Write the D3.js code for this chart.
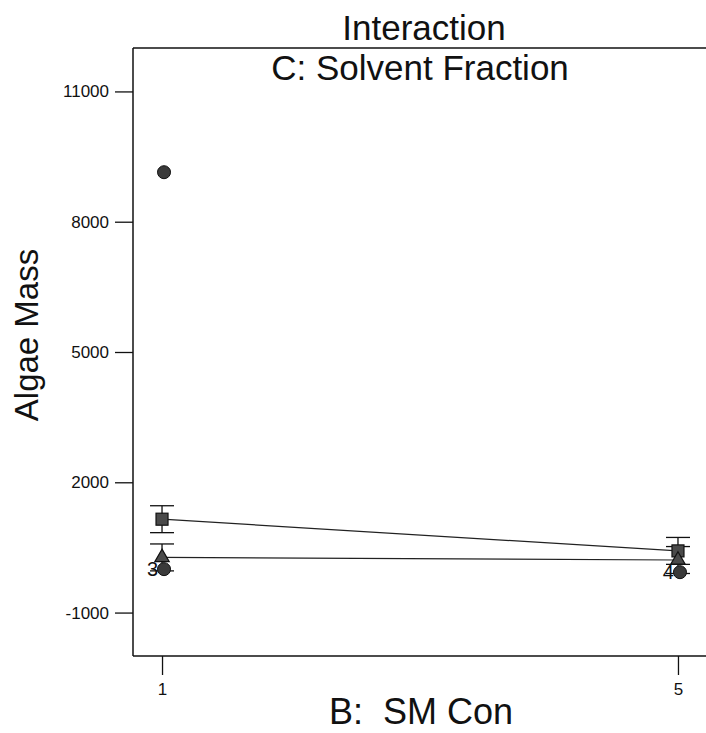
<!DOCTYPE html>
<html>
<head>
<meta charset="utf-8">
<script src="https://cdn.jsdelivr.net/npm/d3@7"></script>
<style>
  body { margin: 0; background: #fff; }
  svg { display: block; font-family: "Liberation Sans", Arial, sans-serif; }
</style>
</head>
<body>
<svg id="chart" width="706" height="733"></svg>
<script>
// factor levels of B and the tick labels
const smCon = [1, 5];
const xTicks = [1, 5];
const yTicks = [-1000, 2000, 5000, 8000, 11000];

// predicted means for the two levels of C (square / triangle) and LSD half width
const squareMeans = [1150, 420];
const triangleMeans = [270, 210];
const lsdHalf = [310, 310];

// design points and how many runs sit on each
const designX = [1, 1, 5];
const designY = [9140, 0, -70];
const designCount = [1, 3, 4];

const svg = d3.select('#chart');

// the plot box runs a bit past the right edge of the window, like the original
const x = d3.scaleLinear().domain([0.775, 5.225]).range([133, 707]);
const y = d3.scaleLinear().domain([-2000, 12000]).range([656, 48]);

// frame (right side is outside the picture)
const frame = svg.append('g').attr('stroke', '#111').attr('stroke-width', 1.5);
frame.append('line')
    .attr('x1', x.range()[0]).attr('x2', 706)
    .attr('y1', y.range()[1]).attr('y2', y.range()[1]);
frame.append('line')
    .attr('x1', x.range()[0]).attr('x2', 706)
    .attr('y1', y.range()[0]).attr('y2', y.range()[0]);
frame.append('line')
    .attr('x1', x.range()[0]).attr('x2', x.range()[0])
    .attr('y1', y.range()[1]).attr('y2', y.range()[0]);

// y axis
const yAxis = svg.append('g')
    .attr('transform', 'translate(' + x.range()[0] + ',0)')
    .call(d3.axisLeft(y).tickValues(yTicks).tickSize(18).tickPadding(6).tickFormat(d => String(d)));
yAxis.select('.domain').remove();
yAxis.selectAll('line').attr('stroke', '#111').attr('stroke-width', 1.3);
yAxis.selectAll('text').attr('font-size', 17).attr('fill', '#111')
    .attr('font-family', '"Liberation Sans", Arial, sans-serif');

// x axis
const xAxis = svg.append('g')
    .attr('transform', 'translate(0,' + y.range()[0] + ')')
    .call(d3.axisBottom(x).tickValues(xTicks).tickSize(19).tickPadding(8).tickFormat(d => String(d)));
xAxis.select('.domain').remove();
xAxis.selectAll('line').attr('stroke', '#111').attr('stroke-width', 1.3);
xAxis.selectAll('text').attr('font-size', 17).attr('fill', '#111')
    .attr('font-family', '"Liberation Sans", Arial, sans-serif');

// titles
svg.append('text')
    .attr('x', 424).attr('y', 40)
    .attr('text-anchor', 'middle').attr('font-size', 35).attr('fill', '#111')
    .text('Interaction');
svg.append('text')
    .attr('x', 420).attr('y', 80)
    .attr('text-anchor', 'middle').attr('font-size', 35).attr('fill', '#111')
    .text('C: Solvent Fraction');
svg.append('text')
    .attr('x', 421).attr('y', 724)
    .attr('text-anchor', 'middle').attr('font-size', 36).attr('fill', '#111')
    .style('white-space', 'pre')
    .text('B:  SM Con');
svg.append('text')
    .attr('transform', 'translate(38,335) rotate(-90)')
    .attr('text-anchor', 'middle').attr('font-size', 33).attr('fill', '#111')
    .text('Algae Mass');

// interaction lines
const line = d3.line()
    .x((d, i) => x(smCon[i]))
    .y(d => y(d));

[squareMeans, triangleMeans].forEach(means => {
    svg.append('path')
        .datum(means)
        .attr('d', line)
        .attr('fill', 'none')
        .attr('stroke', '#222')
        .attr('stroke-width', 1.2);
});

// LSD bars
let drawBars = function (means) {
    const g = svg.append('g').attr('stroke', '#111').attr('stroke-width', 1.3);
    means.forEach((m, i) => {
        const cx = x(smCon[i]);
        const top = y(m + lsdHalf[i]);
        const bot = y(m - lsdHalf[i]);
        g.append('line').attr('x1', cx).attr('x2', cx).attr('y1', top).attr('y2', bot);
        g.append('line').attr('x1', cx - 12).attr('x2', cx + 12).attr('y1', top).attr('y2', top);
        g.append('line').attr('x1', cx - 12).attr('x2', cx + 12).attr('y1', bot).attr('y2', bot);
    });
}
drawBars(squareMeans);
drawBars(triangleMeans);

// square markers
svg.selectAll('.sq')
    .data(squareMeans)
    .enter().append('rect')
    .attr('class', 'sq')
    .attr('x', (d, i) => x(smCon[i]) - 6)
    .attr('y', d => y(d) - 6)
    .attr('width', 12).attr('height', 12)
    .attr('fill', '#4a4a4a').attr('stroke', '#111').attr('stroke-width', 1.2);

// triangle markers
svg.selectAll('.tri')
    .data(triangleMeans)
    .enter().append('path')
    .attr('class', 'tri')
    .attr('transform', (d, i) => 'translate(' + x(smCon[i]) + ',' + y(d) + ')')
    .attr('d', d3.symbol().type(d3.symbolTriangle).size(90))
    .attr('fill', '#4a4a4a').attr('stroke', '#111').attr('stroke-width', 1.2);

// design points
let points = designY.map((v, i) => ({ b: designX[i], v: v, n: designCount[i] }));

svg.selectAll('.dp')
    .data(points)
    .enter().append('circle')
    .attr('class', 'dp')
    .attr('cx', d => x(d.b) + 2)
    .attr('cy', d => y(d.v))
    .attr('r', 6.5)
    .attr('fill', '#3a3a3a').attr('stroke', '#111').attr('stroke-width', 1);

svg.selectAll('.cnt')
    .data(points.filter(d => d.n > 1))
    .enter().append('text')
    .attr('class', 'cnt')
    .attr('x', d => x(d.b) - 4)
    .attr('y', d => y(d.v) + 7)
    .attr('text-anchor', 'end')
    .attr('font-size', 20).attr('fill', '#111')
    .text(d => d.n);
</script>
</body>
</html>
